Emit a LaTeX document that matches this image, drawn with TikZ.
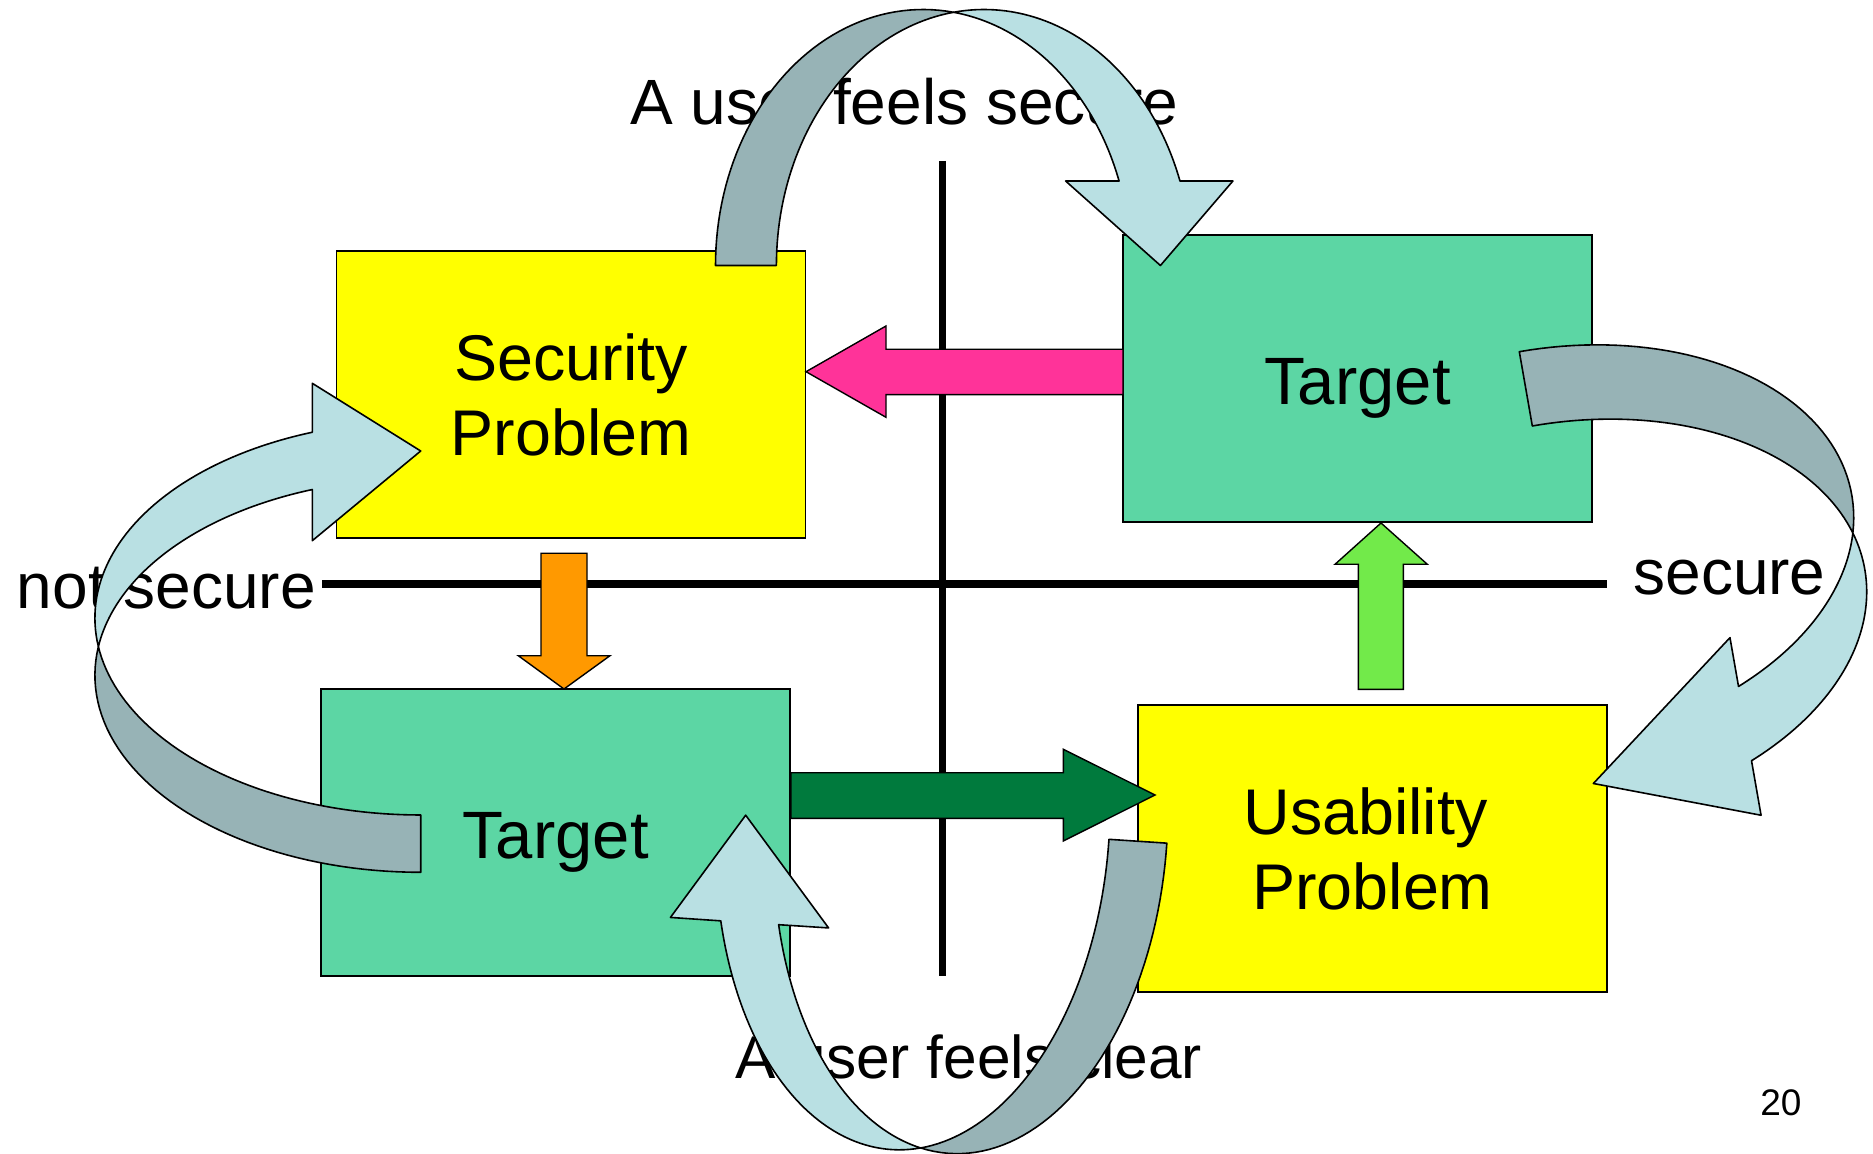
\documentclass[tikz,border=0pt]{standalone}
\usepackage{fontspec}
\setmainfont{Liberation Sans}
\newcommand\labelfont{\fontsize{32}{38}\selectfont}
\newcommand\lowlabelfont{\fontsize{30.2}{36}\selectfont}
\newcommand\boxfont{\fontsize{32.3}{37.5}\selectfont}
\newcommand\targetfont{\fontsize{33.5}{40}\selectfont}
\newcommand\pagefont{\fontsize{18.5}{22}\selectfont}
\definecolor{boxyellow}{RGB}{255,255,0}
\definecolor{boxgreen}{RGB}{92,214,164}
\definecolor{pinkfill}{RGB}{255,51,153}
\definecolor{orangefill}{RGB}{255,153,0}
\definecolor{limefill}{RGB}{114,234,74}
\definecolor{forestfill}{RGB}{0,122,61}
\definecolor{arcback}{RGB}{151,179,182}
\definecolor{arcfront}{RGB}{185,224,227}
\begin{document}
\begin{tikzpicture}[x=0.5pt,y=-0.5pt,
  box/.style={draw=black, line width=0.8pt, minimum width=234.5pt,
    minimum height=143.5pt, inner sep=0pt, align=center, font=\boxfont},
  targetbox/.style={box, fill=boxgreen,
    label={[inner sep=0pt, font=\targetfont, yshift=-4.8pt]center:Target}},
  caption/.style={inner sep=0pt, anchor=base west, font=\labelfont},
  axisline/.style={line width=3.8pt, black},
  blockarrow/.style={draw=black, line width=0.7pt, line join=miter},
  arcpart/.style={draw=black, line width=0.8pt, line join=round}]
\useasboundingbox (0,0) rectangle (1873,1154);
\fill[white] (0,0) rectangle (1873,1154);

% axes
\coordinate (xl) at (322,584);
\coordinate (xr) at (1607,584);
\coordinate (yt) at (942.5,161);
\coordinate (yb) at (942.5,976);
\draw[axisline] (xl) -- (xr);
\draw[axisline] (yt) -- (yb);

% axis and quadrant labels
\node[caption] (ltop) at (630,125) {A user feels secure};
\node[caption] (lleft) at (16.5,608) {not secure};
\node[caption] (lright) at (1633,595) {secure};
\node[caption, font=\lowlabelfont] (lbottom) at (735,1078) {A user feels clear};
\node[caption, font=\pagefont] (pagenum) at (1760,1115) {20};

% the four boxes
\node[box, fill=boxyellow] (sec) at (571,394.5) {Security\\Problem};
\node[targetbox] (tgtR) at (1357.5,378.5) {};
\node[targetbox] (tgtL) at (555.5,832.5) {};
\node[box, fill=boxyellow] (usab) at (1372.5,848.5) {Usability\kern7pt\\Problem};

% straight block arrows
\draw[blockarrow, fill=pinkfill] (1123,349.3) -- (886,349.3) -- (886,326)
  -- (806,371.7) -- (886,417.3) -- (886,394.7) -- (1123,394.7) -- cycle;
\draw[blockarrow, fill=orangefill] (541,553.3) -- (587,553.3) -- (587,655.7)
  -- (610,655.7) -- (564,689) -- (518.3,655.7) -- (541,655.7) -- cycle;
\draw[blockarrow, fill=limefill] (1358.3,689.3) -- (1358.3,564.3) -- (1335,564.3)
  -- (1381,523) -- (1427.3,564.3) -- (1403.3,564.3) -- (1403.3,689.3) -- cycle;
\draw[blockarrow, fill=forestfill] (791,772.7) -- (1063.3,772.7) -- (1063.3,749.3)
  -- (1155,795) -- (1063.3,841) -- (1063.3,818.3) -- (791,818.3) -- cycle;

% curved arrow over the top: Security Problem -> Target
\draw[arcpart, fill=arcback]
  plot[domain=180:278.43, samples=50] ({923.1+207.6*cos(\x)},{265.5+256*sin(\x)})
  -- plot[domain=261.57:180, samples=50] ({984+207.6*cos(\x)},{265.5+256*sin(\x)})
  -- cycle;
\draw[arcpart, fill=arcfront]
  plot[domain=261.57:340.73, samples=50] ({984+207.6*cos(\x)},{265.5+256*sin(\x)})
  -- (1232.9,181) -- (1160.4,265.5) -- (1065.6,181)
  -- plot[domain=340.73:278.43, samples=50] ({923.1+207.6*cos(\x)},{265.5+256*sin(\x)})
  -- cycle;

% curved arrow on the left: Target -> Security Problem
\draw[arcpart, fill=arcback]
  plot[domain=90:188.36, samples=50] ({420.7+325.8*cos(\x)},{675.3+197*sin(\x)})
  -- plot[domain=171.64:90, samples=50] ({420.7+325.8*cos(\x)},{618+197*sin(\x)})
  -- cycle;
\draw[arcpart, fill=arcfront]
  plot[domain=171.64:250.57, samples=50] ({420.7+325.8*cos(\x)},{618+197*sin(\x)})
  -- (312.3,383.3) -- (420.7,451) -- (312.3,540.7)
  -- plot[domain=250.57:188.36, samples=50] ({420.7+325.8*cos(\x)},{675.3+197*sin(\x)})
  -- cycle;

% curved arrow on the right: Target -> Usability Problem
\begin{scope}[shift={(1519.3,351.7)}, rotate=9.93]
\draw[arcpart, fill=arcback]
  plot[domain=270:370.95, samples=50] ({302.8*cos(\x)},{198.4+198.4*sin(\x)})
  -- plot[domain=349.05:270, samples=50] ({302.8*cos(\x)},{273.8+198.4*sin(\x)})
  -- cycle;
\draw[arcpart, fill=arcfront]
  plot[domain=-10.95:58.5, samples=50] ({302.8*cos(\x)},{273.8+198.4*sin(\x)})
  -- (158.2,498.3) -- (-1.5,438.1) -- (158.2,318)
  -- plot[domain=58.5:10.95, samples=50] ({302.8*cos(\x)},{198.4+198.4*sin(\x)})
  -- cycle;
\end{scope}

% curved arrow underneath: Usability Problem -> Target
\begin{scope}[shift={(912.9,826.3)}, rotate=-3.8]
\draw[arcpart, fill=arcback]
  plot[domain=0:98.49, samples=50] ({58+196.5*cos(\x)},{324*sin(\x)})
  -- plot[domain=81.51:0, samples=50] ({196.5*cos(\x)},{324*sin(\x)})
  -- cycle;
\draw[arcpart, fill=arcfront]
  plot[domain=81.51:160.7, samples=50] ({196.5*cos(\x)},{324*sin(\x)})
  -- (-235.9,107) -- (-167.6,0) -- (-77.4,107)
  -- plot[domain=160.7:98.49, samples=50] ({58+196.5*cos(\x)},{324*sin(\x)})
  -- cycle;
\end{scope}
\end{tikzpicture}
\end{document}
